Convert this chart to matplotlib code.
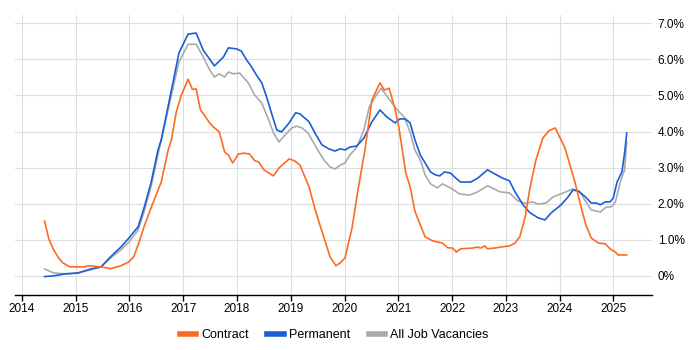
import numpy as np
import matplotlib
matplotlib.use("Agg")
import matplotlib.pyplot as plt

plt.rcParams['font.family'] = ['Liberation Sans', 'DejaVu Sans']

contract_x = [2014.42, 2014.50, 2014.59, 2014.68, 2014.76, 2014.89, 2015.15, 2015.24, 2015.47, 2015.65,
              2015.84, 2015.99, 2016.08, 2016.18, 2016.27, 2016.40, 2016.59, 2016.72, 2016.78, 2016.87,
              2016.96, 2017.09, 2017.17, 2017.24, 2017.32, 2017.39, 2017.49, 2017.56, 2017.67, 2017.77,
              2017.84, 2017.92, 2018.03, 2018.14, 2018.23, 2018.33, 2018.40, 2018.50, 2018.68, 2018.78,
              2018.97, 2019.07, 2019.17, 2019.34, 2019.45, 2019.62, 2019.73, 2019.84, 2019.92, 2020.01,
              2020.14, 2020.25, 2020.38, 2020.51, 2020.66, 2020.74, 2020.83, 2020.93, 2021.01, 2021.14,
              2021.22, 2021.31, 2021.41, 2021.50, 2021.64, 2021.82, 2021.92, 2022.01, 2022.08, 2022.16,
              2022.38, 2022.48, 2022.53, 2022.61, 2022.66, 2022.79, 2022.91, 2023.07, 2023.17, 2023.26,
              2023.36, 2023.45, 2023.56, 2023.69, 2023.80, 2023.92, 2024.10, 2024.29, 2024.40, 2024.49,
              2024.59, 2024.72, 2024.85, 2024.94, 2025.04, 2025.09, 2025.25]
contract_y = [1.52, 1.02, 0.72, 0.50, 0.36, 0.25, 0.25, 0.28, 0.25, 0.20,
              0.28, 0.39, 0.53, 0.94, 1.36, 1.88, 2.60, 3.49, 3.77, 4.54,
              4.99, 5.45, 5.17, 5.18, 4.60, 4.46, 4.24, 4.13, 3.99, 3.43,
              3.35, 3.13, 3.38, 3.40, 3.38, 3.19, 3.16, 2.94, 2.77, 2.99,
              3.24, 3.19, 3.07, 2.47, 1.85, 1.05, 0.53, 0.28, 0.36, 0.50,
              1.33, 2.38, 3.49, 4.88, 5.35, 5.15, 5.20, 4.68, 4.13, 2.85,
              2.47, 1.79, 1.41, 1.08, 0.97, 0.91, 0.78, 0.77, 0.66, 0.75,
              0.77, 0.80, 0.77, 0.83, 0.75, 0.77, 0.80, 0.83, 0.91, 1.08,
              1.63, 2.44, 3.21, 3.82, 4.02, 4.10, 3.55, 2.58, 1.91, 1.41,
              1.05, 0.91, 0.89, 0.75, 0.66, 0.58, 0.58]

perm_x = [2014.42, 2014.59, 2014.78, 2015.04, 2015.28, 2015.47, 2015.65, 2015.84, 2015.99, 2016.16,
          2016.27, 2016.40, 2016.53, 2016.59, 2016.78, 2016.92, 2017.09, 2017.24, 2017.37, 2017.58,
          2017.75, 2017.84, 2017.99, 2018.08, 2018.18, 2018.25, 2018.36, 2018.46, 2018.55, 2018.64,
          2018.74, 2018.83, 2018.97, 2019.09, 2019.17, 2019.34, 2019.45, 2019.58, 2019.71, 2019.82,
          2019.92, 2020.01, 2020.10, 2020.23, 2020.36, 2020.51, 2020.66, 2020.79, 2020.94, 2021.03,
          2021.13, 2021.22, 2021.31, 2021.41, 2021.50, 2021.60, 2021.69, 2021.77, 2021.86, 2021.97,
          2022.07, 2022.16, 2022.35, 2022.48, 2022.66, 2022.79, 2022.94, 2023.07, 2023.17, 2023.32,
          2023.45, 2023.60, 2023.73, 2023.84, 2024.03, 2024.16, 2024.25, 2024.35, 2024.48, 2024.59,
          2024.68, 2024.76, 2024.85, 2024.94, 2025.00, 2025.07, 2025.16, 2025.21, 2025.25]
perm_y = [-0.02, 0.00, 0.05, 0.08, 0.19, 0.25, 0.53, 0.80, 1.05, 1.36,
          1.88, 2.58, 3.49, 3.77, 5.15, 6.18, 6.70, 6.73, 6.26, 5.82,
          6.07, 6.32, 6.29, 6.23, 5.98, 5.84, 5.57, 5.35, 4.96, 4.52,
          4.04, 3.99, 4.24, 4.52, 4.49, 4.27, 3.96, 3.63, 3.52, 3.46,
          3.52, 3.49, 3.57, 3.60, 3.82, 4.27, 4.60, 4.40, 4.24, 4.35,
          4.35, 4.24, 3.77, 3.35, 3.13, 2.88, 2.80, 2.77, 2.88, 2.85,
          2.71, 2.60, 2.60, 2.71, 2.94, 2.83, 2.71, 2.63, 2.33, 1.97,
          1.75, 1.61, 1.55, 1.74, 1.97, 2.19, 2.38, 2.35, 2.19, 2.02,
          2.02, 1.97, 2.05, 2.05, 2.16, 2.60, 2.88, 3.40, 3.96]

all_x = [2014.42, 2014.59, 2014.78, 2015.04, 2015.28, 2015.47, 2015.65, 2015.84, 2015.99, 2016.16,
         2016.27, 2016.40, 2016.55, 2016.92, 2017.09, 2017.24, 2017.37, 2017.49, 2017.58, 2017.67,
         2017.77, 2017.84, 2017.93, 2018.05, 2018.21, 2018.33, 2018.46, 2018.59, 2018.68, 2018.78,
         2018.89, 2019.02, 2019.11, 2019.21, 2019.32, 2019.43, 2019.50, 2019.62, 2019.73, 2019.82,
         2019.92, 2020.01, 2020.10, 2020.23, 2020.36, 2020.46, 2020.57, 2020.68, 2020.83, 2020.98,
         2021.11, 2021.22, 2021.31, 2021.41, 2021.50, 2021.60, 2021.73, 2021.82, 2021.97, 2022.14,
         2022.33, 2022.48, 2022.66, 2022.89, 2023.07, 2023.22, 2023.37, 2023.50, 2023.60, 2023.75,
         2023.88, 2024.07, 2024.25, 2024.38, 2024.49, 2024.59, 2024.76, 2024.87, 2024.96, 2025.04,
         2025.13, 2025.21, 2025.25]
all_y = [0.19, 0.08, 0.06, 0.08, 0.17, 0.25, 0.50, 0.72, 0.94, 1.27,
         1.77, 2.47, 3.49, 5.93, 6.42, 6.42, 6.07, 5.71, 5.51, 5.60,
         5.51, 5.65, 5.60, 5.62, 5.35, 5.01, 4.79, 4.32, 3.96, 3.71,
         3.90, 4.10, 4.15, 4.10, 3.96, 3.68, 3.49, 3.21, 3.02, 2.96,
         3.07, 3.13, 3.35, 3.57, 4.04, 4.68, 4.96, 5.20, 4.90, 4.60,
         4.40, 3.99, 3.49, 3.21, 2.80, 2.55, 2.44, 2.55, 2.44, 2.27,
         2.24, 2.33, 2.50, 2.33, 2.30, 2.08, 2.01, 2.05, 1.99, 2.02,
         2.19, 2.30, 2.41, 2.33, 2.05, 1.83, 1.77, 1.91, 1.91, 2.05,
         2.60, 2.94, 3.70]

years = list(range(2014, 2026))
y_ticks = [0, 1, 2, 3, 4, 5, 6, 7]
y_labels = ["0%", "1.0%", "2.0%", "3.0%", "4.0%", "5.0%", "6.0%", "7.0%"]

fig = plt.figure(figsize=(7, 3.5), dpi=100)
ax = fig.add_axes([15 / 700, 1 - 295 / 350, 637 / 700, 280 / 350])

ax.plot(all_x, all_y, color="#aaaaaa", lw=1.2, label="All Job Vacancies", zorder=3)
ax.plot(perm_x, perm_y, color="#1a5dd8", lw=1.2, label="Permanent", zorder=4)
ax.plot(contract_x, contract_y, color="#ff6a21", lw=1.2, label="Contract", zorder=5)

ax.set_xlim(2013.87, 2025.72)
ax.set_ylim(-0.53, 7.23)
ax.set_xticks(years)
ax.set_xticklabels([str(y) for y in years], fontsize=8.5)
ax.set_yticks(y_ticks)
ax.set_yticklabels(y_labels, fontsize=8.5)
ax.yaxis.tick_right()
ax.tick_params(axis="y", length=0, pad=4)
ax.tick_params(axis="x", length=4, width=1, color="black", pad=2)
ax.grid(True, color="#dddddd", lw=0.8)
ax.set_axisbelow(True)
for s in ["top", "left", "right"]:
    ax.spines[s].set_visible(False)
ax.spines["bottom"].set_color("black")
ax.spines["bottom"].set_linewidth(1)

# legend centred under the plot area, Contract first
handles, labels = ax.get_legend_handles_labels()
order = [2, 1, 0]
leg = fig.legend([handles[i] for i in order], [labels[i] for i in order],
                 loc="center", bbox_to_anchor=(334 / 700, 1 - 335 / 350), ncol=3,
                 frameon=False, fontsize=9, handlelength=1.3, handletextpad=0.4,
                 columnspacing=1.5)
for h in leg.get_lines():
    h.set_linewidth(4)

fig.savefig("out.png", dpi=100)
